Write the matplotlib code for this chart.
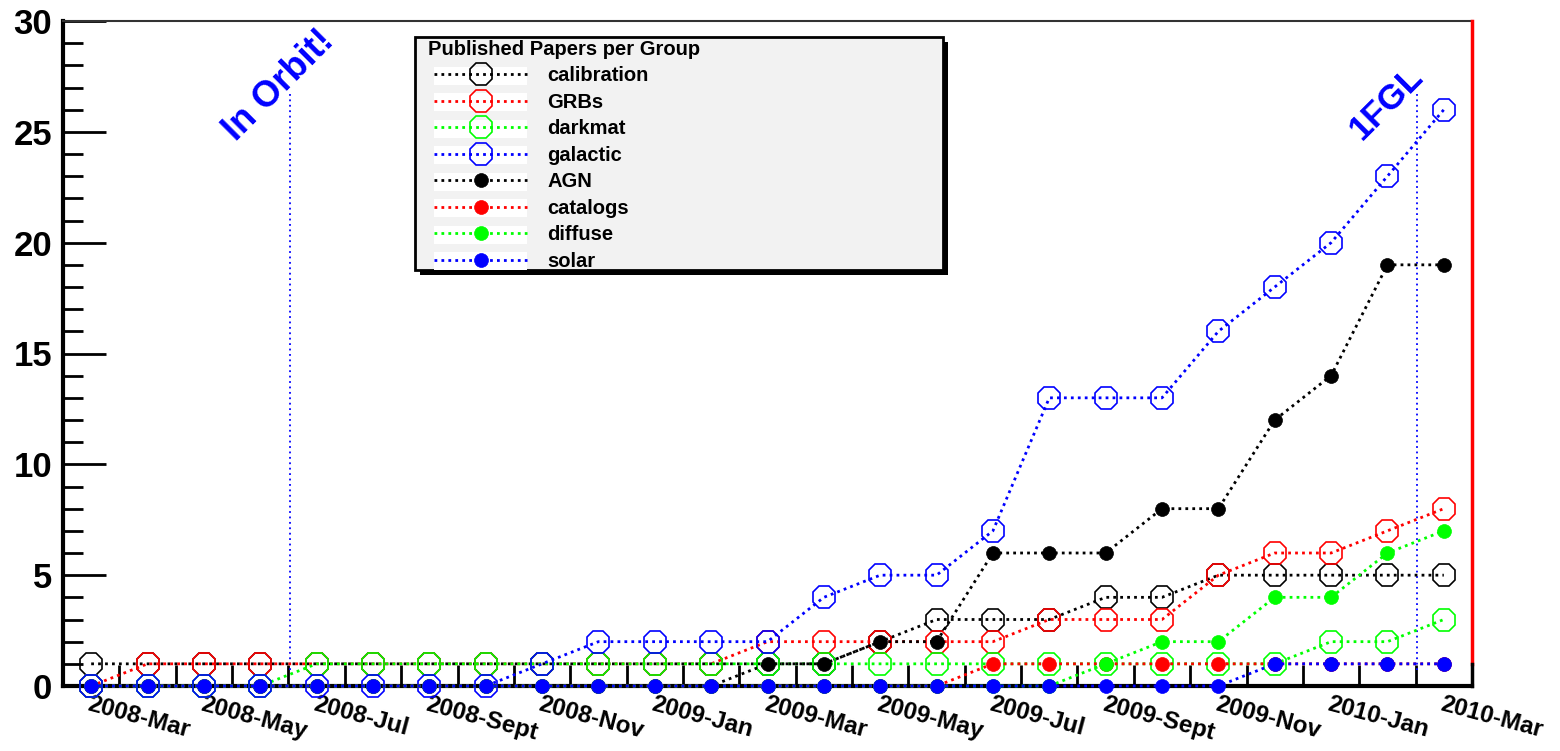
import numpy as np
import matplotlib
matplotlib.use("Agg")
import matplotlib.pyplot as plt
from matplotlib.patches import Rectangle
from matplotlib.lines import Line2D
from matplotlib.legend_handler import HandlerLine2D

plt.rcParams['font.family'] = ['Liberation Sans', 'DejaVu Sans']

# monthly points, 2008-Mar .. 2010-Mar
months = ['2008-Mar', '2008-Apr', '2008-May', '2008-Jun', '2008-Jul', '2008-Aug',
          '2008-Sept', '2008-Oct', '2008-Nov', '2008-Dec', '2009-Jan', '2009-Feb',
          '2009-Mar', '2009-Apr', '2009-May', '2009-Jun', '2009-Jul', '2009-Aug',
          '2009-Sept', '2009-Oct', '2009-Nov', '2009-Dec', '2010-Jan', '2010-Feb',
          '2010-Mar']

calibration = [1, 1, 1, 1, 1, 1, 1, 1, 1, 1, 1, 1, 1, 1, 2, 3, 3, 3, 4, 4, 5, 5, 5, 5, 5]
grbs        = [0, 1, 1, 1, 1, 1, 1, 1, 1, 1, 1, 1, 2, 2, 2, 2, 2, 3, 3, 3, 5, 6, 6, 7, 8]
darkmat     = [0, 0, 0, 0, 1, 1, 1, 1, 1, 1, 1, 1, 1, 1, 1, 1, 1, 1, 1, 1, 1, 1, 2, 2, 3]
galactic    = [0, 0, 0, 0, 0, 0, 0, 0, 1, 2, 2, 2, 2, 4, 5, 5, 7, 13, 13, 13, 16, 18, 20, 23, 26]
agn         = [0, 0, 0, 0, 0, 0, 0, 0, 0, 0, 0, 0, 1, 1, 2, 2, 6, 6, 6, 8, 8, 12, 14, 19, 19]
catalogs    = [0, 0, 0, 0, 0, 0, 0, 0, 0, 0, 0, 0, 0, 0, 0, 0, 1, 1, 1, 1, 1, 1, 1, 1, 1]
diffuse     = [0, 0, 0, 0, 0, 0, 0, 0, 0, 0, 0, 0, 0, 0, 0, 0, 0, 0, 1, 2, 2, 4, 4, 6, 7]
solar       = [0, 0, 0, 0, 0, 0, 0, 0, 0, 0, 0, 0, 0, 0, 0, 0, 0, 0, 0, 0, 0, 1, 1, 1, 1]

groups = [('calibration', calibration, 'black', False),
          ('GRBs', grbs, 'red', False),
          ('darkmat', darkmat, '#00ff00', False),
          ('galactic', galactic, 'blue', False),
          ('AGN', agn, 'black', True),
          ('catalogs', catalogs, 'red', True),
          ('diffuse', diffuse, '#00ff00', True),
          ('solar', solar, 'blue', True)]

# vertical markers: launch (mid June 2008) and 1FGL (mid Feb 2010)
events = [('In Orbit!', 3.52, 26.8), ('1FGL', 23.52, 26.8)]

x = np.arange(len(months))

fig = plt.figure(figsize=(15.6, 7.51), dpi=100)
ax = fig.add_axes([63 / 1560, 65 / 751, 1409 / 1560, 665 / 751])

handles = []
for name, vals, col, filled in groups:
    if filled:
        h, = ax.plot(x, vals, linestyle=(0, (1, 1.5)), lw=2, color=col,
                     marker='o', ms=10, mfc=col, mec=col, mew=0.5,
                     label=name, clip_on=False, zorder=3)
    else:
        h, = ax.plot(x, vals, linestyle=(0, (1, 1.5)), lw=2, color=col,
                     marker='8', ms=17, mfc='none', mec=col, mew=1.2,
                     label=name, clip_on=False, zorder=3)
    handles.append(h)

for txt, xe, top in events:
    ax.plot([xe, xe], [0.7, top], color='blue', lw=1.3, linestyle=(0, (1, 2)), zorder=2)

ax.text(3.33, 27.1, 'In Orbit!', rotation=45, rotation_mode='anchor',
        ha='center', va='center', color='blue', fontsize=26, fontweight='bold')
ax.text(22.98, 26.3, '1FGL', rotation=45, rotation_mode='anchor',
        ha='center', va='center', color='blue', fontsize=25, fontweight='bold')

ax.set_xlim(-0.5, 24.5)
ax.set_ylim(0, 30)

# y axis
ax.set_yticks(np.arange(0, 31, 5))
ax.set_yticks(np.arange(0, 31, 1), minor=True)
ax.tick_params(axis='y', which='major', direction='in', length=31, width=2,
               labelsize=25, pad=8)
ax.tick_params(axis='y', which='minor', direction='in', length=14.5, width=2)
for lab in ax.get_yticklabels():
    lab.set_fontweight('bold')

# x axis: labels every two months, ticks between months
ax.set_xticks(x[::2])
ax.set_xticklabels(months[::2], rotation=-15, ha='left', va='top',
                   rotation_mode='anchor', fontsize=17.5, fontweight='bold')
ax.set_xticks(np.arange(-0.5, 24.6, 1), minor=True)
ax.tick_params(axis='x', which='major', length=0, pad=5)
ax.tick_params(axis='x', which='minor', direction='in', length=15, width=2)

ax.spines['left'].set_linewidth(3)
ax.spines['bottom'].set_linewidth(3)
ax.spines['top'].set_linewidth(1.5)
ax.spines['top'].set_color('#333333')
ax.spines['right'].set_visible(False)
ax.axvline(24.5, ymin=1 / 30, ymax=1, color='red', lw=2.5, zorder=4, clip_on=False)
ax.axvline(24.5, ymin=0, ymax=1 / 30, color='black', lw=2.5, zorder=4, clip_on=False)

# legend contents without frame; the ROOT-like box is drawn below it
leg = ax.legend(handles=handles, loc='upper left',
                bbox_to_anchor=((428 - 63) / 1409, (686 - 40) / 665),
                borderaxespad=0, borderpad=0, frameon=False,
                title='Published Papers per Group',
                title_fontproperties={'weight': 'bold', 'size': 14.5},
                alignment='left', prop={'weight': 'bold', 'size': 14.5},
                handlelength=4.92, handletextpad=1.0, labelspacing=0.37,
                numpoints=1, handler_map={Line2D: HandlerLine2D(xpad=0.3)})
leg.set_zorder(7)

fig.canvas.draw()
bb = leg.get_window_extent()
box_w = 528
left = bb.x0 - 13
bottom = bb.y0 + 1
height = bb.y1 + 3 - bottom
ax.add_artist(Rectangle((left + 5, bottom - 5), box_w, height, transform=None,
                        facecolor='black', edgecolor='none', zorder=5))
ax.add_artist(Rectangle((left, bottom), box_w, height, transform=None,
                        facecolor='#f2f2f2', edgecolor='black', lw=2, zorder=6))
# white strip behind every legend symbol
for t in leg.get_texts():
    tb = t.get_window_extent()
    yc = 0.5 * (tb.y0 + tb.y1)
    ax.add_artist(Rectangle((bb.x0 + 6, yc - 9), 93, 18, transform=None,
                            facecolor='white', edgecolor='none', zorder=6.5))

fig.savefig('out.png', dpi=100)
